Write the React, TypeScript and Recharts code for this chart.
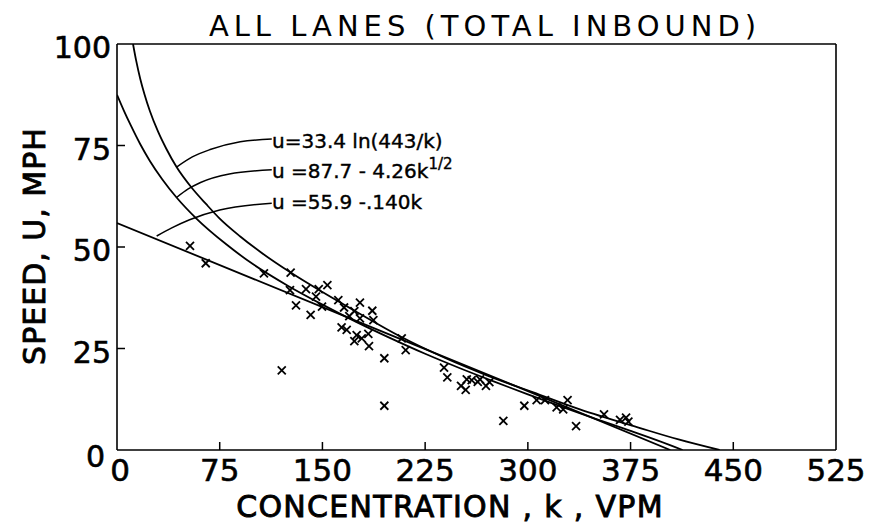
import React from "react";
import {
  ComposedChart,
  Line,
  Scatter,
  XAxis,
  YAxis,
  ReferenceLine,
} from "recharts";

// Observed points (k = concentration VPM, u = speed MPH)
const obsK = [
  53.3, 64.8, 107.3, 126.8, 126.3, 130.7, 120.3, 138, 147.3, 153.6, 145.3, 141.4,
  149.7, 161.6, 165.8, 177.4, 173.3, 169.6, 177.4, 186.4, 187.2, 164.0, 167.7,
  175.0, 173.3, 178.7, 183.5, 184.0, 195.2, 195.2, 207.9, 210.8, 238.8, 241.2,
  251.2, 254.6, 255.4, 259.0, 263.4, 265.0, 269.4, 271.9, 282.1, 297.4, 306.4,
  312.5, 321.0, 325.8, 329.0, 335.2, 355.6, 367.3, 371.7, 373.4,
];
const obsU = [
  50.3, 46.0, 43.5, 43.7, 39.4, 35.6, 19.6, 39.6, 39.6, 40.6, 37.8, 33.3, 35.3,
  36.9, 35.1, 36.3, 34.2, 33.0, 32.4, 34.3, 32.0, 30.2, 29.6, 28.3, 26.8, 27.5,
  28.6, 25.6, 22.6, 10.9, 27.5, 24.6, 20.3, 17.9, 15.8, 14.8, 17.4, 17.2, 16.8,
  17.4, 15.8, 16.7, 7.2, 10.9, 12.3, 12.3, 10.5, 10.0, 12.3, 5.9, 8.8, 7.4, 8.0,
  7.0,
];

// Greenberg curve u = 33.4 ln(443/k) as drawn
const grK = [11.7, 14, 17, 20, 24, 30, 36, 43.5, 55, 65, 75, 90, 105, 126.8, 150, 175, 206.6, 240, 270, 304, 338, 382, 410, 440];
const grU = [100, 95.9, 91.4, 87.7, 83.5, 78.4, 74.2, 69.7, 64.4, 60.6, 57.0, 52.6, 48.7, 43.7, 38.9, 34.0, 28.0, 22.6, 18.4, 14.2, 10.0, 5.4, 2.6, 0];

// Square-root curve u = 87.7 - 4.26 k^1/2 as drawn
const sqK = [0, 5, 10, 17, 24, 33, 43.5, 58, 80, 100, 125, 150, 175, 200, 225, 250, 275, 300, 325, 350, 375, 395, 413];
const sqU = [87.5, 83.6, 80.0, 75.3, 71.2, 66.7, 62.2, 57.0, 50.6, 45.6, 40.4, 35.8, 31.5, 27.5, 23.7, 20.2, 16.9, 13.7, 10.6, 7.6, 4.7, 2.3, 0];

// Linear curve u = 55.9 - .140k
const linK = [0, 100, 200, 300, 404];
const linU = [55.9, 42.1, 28.3, 14.5, 0];

// Leader lines from labels to curves
const ldGrK = [43.5, 55, 68, 90, 113];
const ldGrU = [69.7, 72.2, 74.0, 75.9, 76.6];
const ldSqK = [43.5, 52, 61, 82, 113];
const ldSqU = [62.2, 64.3, 65.9, 68.0, 69.0];
const ldLnK = [29, 40, 53, 75, 113];
const ldLnU = [52.7, 54.7, 56.7, 59.1, 60.8];

const xTicks = [0, 75, 150, 225, 300, 375, 450, 525];
const yTicks = [0, 25, 50, 75, 100];

const title = "ALL LANES (TOTAL INBOUND)";
const xLabel = "CONCENTRATION , k , VPM";
const yLabel = "SPEED, U, MPH";
const eq1 = "u=33.4 ln(443/k)";
const eq2a = "u =87.7 - 4.26k";
const eq2b = "1/2";
const eq3 = "u =55.9 -.140k";

const zip = (ks: number[], us: number[]) => ks.map((k, i) => ({ k, u: us[i] }));

const obsData = zip(obsK, obsU);
const grData = zip(grK, grU);
const sqData = zip(sqK, sqU);
const linData = zip(linK, linU);
const ldGr = zip(ldGrK, ldGrU);
const ldSq = zip(ldSqK, ldSqU);
const ldLn = zip(ldLnK, ldLnU);

const FONT = "'DejaVu Sans', 'Liberation Sans', sans-serif";

const XMark = (props: any) => {
  const { cx, cy } = props;
  if (cx == null || cy == null) return null;
  const s = 4;
  return (
    <g stroke="#000" strokeWidth={1.8}>
      <line x1={cx - s} y1={cy - s} x2={cx + s} y2={cy + s} />
      <line x1={cx - s} y1={cy + s} x2={cx + s} y2={cy - s} />
    </g>
  );
};

const XTick = (props: any) => {
  const { x, y, payload } = props;
  const v = payload.value;
  return (
    <g>
      {v > 0 && v < 525 && <line x1={x} y1={y} x2={x} y2={y - 8} stroke="#000" strokeWidth={1.5} />}
      <text
        x={v === 0 ? x + 3 : x}
        y={y + 31}
        textAnchor="middle"
        fontFamily={FONT}
        fontSize={31}
        fill="#000"
        stroke="#000"
        strokeWidth={0.6}
      >
        {v}
      </text>
    </g>
  );
};

const YTick = (props: any) => {
  const { x, y, payload } = props;
  const v = payload.value;
  return (
    <g>
      {v > 0 && v < 100 && <line x1={x} y1={y} x2={x + 8} y2={y} stroke="#000" strokeWidth={1.5} />}
      <text
        x={v === 0 ? x - 12 : x - 6}
        y={v === 0 ? y + 17 : y + 14}
        textAnchor="end"
        fontFamily={FONT}
        fontSize={30}
        fill="#000"
        stroke="#000"
        strokeWidth={0.6}
      >
        {v}
      </text>
    </g>
  );
};

export default function App() {
  const W = 869;
  const H = 516;
  return (
    <div style={{ position: "relative", width: W, height: H, background: "#fff" }}>
      <ComposedChart
        width={W}
        height={H}
        margin={{ top: 36, right: 41, bottom: 34, left: 49 }}
      >
        <XAxis
          type="number"
          dataKey="k"
          domain={[0, 525]}
          ticks={xTicks}
          allowDataOverflow
          tick={<XTick />}
          tickLine={false}
          tickSize={0}
          tickMargin={0}
          height={40}
          axisLine={{ stroke: "#000", strokeWidth: 1.6 }}
        />
        <YAxis
          type="number"
          dataKey="u"
          domain={[0, 100]}
          ticks={yTicks}
          allowDataOverflow
          tick={<YTick />}
          tickLine={false}
          tickSize={0}
          tickMargin={0}
          width={60}
          axisLine={{ stroke: "#000", strokeWidth: 1.6 }}
        />
        <ReferenceLine y={100} stroke="#000" strokeWidth={1.6} />
        <ReferenceLine x={525} stroke="#000" strokeWidth={1.6} />
        <Line data={grData} dataKey="u" type="monotone" stroke="#000" strokeWidth={1.8} dot={false} isAnimationActive={false} />
        <Line data={sqData} dataKey="u" type="monotone" stroke="#000" strokeWidth={1.8} dot={false} isAnimationActive={false} />
        <Line data={linData} dataKey="u" type="linear" stroke="#000" strokeWidth={1.8} dot={false} isAnimationActive={false} />
        <Line data={ldGr} dataKey="u" type="monotone" stroke="#000" strokeWidth={1.5} dot={false} isAnimationActive={false} />
        <Line data={ldSq} dataKey="u" type="monotone" stroke="#000" strokeWidth={1.5} dot={false} isAnimationActive={false} />
        <Line data={ldLn} dataKey="u" type="monotone" stroke="#000" strokeWidth={1.5} dot={false} isAnimationActive={false} />
        <Scatter data={obsData} dataKey="u" shape={<XMark />} isAnimationActive={false} />
      </ComposedChart>
      <svg
        width={W}
        height={H}
        style={{ position: "absolute", left: 0, top: 0, pointerEvents: "none", overflow: "visible" }}
      >
        <text x={477} y={28} textAnchor="middle" fontFamily={FONT} fontSize={29} letterSpacing={5} fill="#000">
          {title}
        </text>
        <text
          x={442}
          y={509}
          textAnchor="middle"
          fontFamily={FONT}
          fontSize={30}
          letterSpacing={1.3}
          fill="#000"
          stroke="#000"
          strokeWidth={0.9}
        >
          {xLabel}
        </text>
        <text
          x={0}
          y={0}
          transform="translate(37,238) rotate(-90)"
          textAnchor="middle"
          fontFamily={FONT}
          fontSize={30}
          letterSpacing={1}
          fill="#000"
          stroke="#000"
          strokeWidth={0.9}
        >
          {yLabel}
        </text>
        <g fontFamily={FONT} fontSize={20} fill="#000" stroke="#000" strokeWidth={0.4}>
          <text x={264} y={140}>{eq1}</text>
          <text x={264} y={170}>
            {eq2a}
            <tspan dy={-9} fontSize={15}>{eq2b}</tspan>
          </text>
          <text x={264} y={201}>{eq3}</text>
        </g>
      </svg>
    </div>
  );
}
